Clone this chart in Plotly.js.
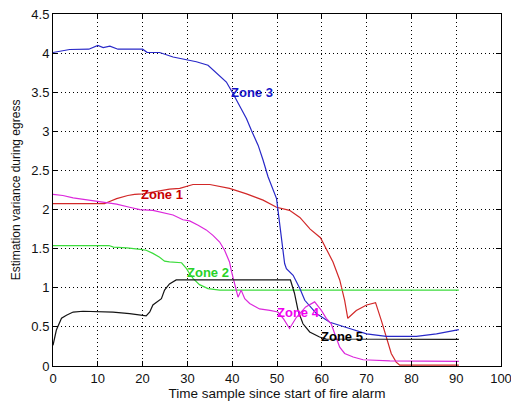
<!DOCTYPE html>
<html>
<head>
<meta charset="utf-8">
<script src="https://cdn.plot.ly/plotly-3.0.1.min.js"></script>
<style>html,body{margin:0;padding:0;background:#fff;}#chart{width:511px;height:405px;}</style>
</head>
<body>
<div id="chart"></div>
<script>
// Zone 1 (red)
const zone1X = [0, 11.5, 12.5, 14.2, 16.7, 18.2, 20, 22, 24, 26, 28.3, 31.25, 35, 37, 39.4, 43.2, 46.9, 49.9, 52.8, 55.1, 57.4, 59.7, 61, 62.5, 64, 65.1, 65.8, 67.7, 70, 72, 73.3, 74.4, 75.5, 76.6, 77.4, 90.6];
const zone1Y = [2.077, 2.077, 2.1, 2.14, 2.18, 2.195, 2.2, 2.22, 2.24, 2.26, 2.27, 2.32, 2.32, 2.3, 2.27, 2.2, 2.12, 2.03, 1.99, 1.9, 1.75, 1.64, 1.50, 1.33, 1.10, 0.84, 0.61, 0.71, 0.78, 0.81, 0.58, 0.37, 0.16, 0.05, 0.01, 0.01];
// Zone 2 (green)
const zone2X = [0, 12.5, 13.5, 16.5, 19.5, 20.8, 22.3, 23.8, 24.9, 26, 28.7, 29.8, 30.5, 31.25, 32.7, 34.6, 37.2, 90.6];
const zone2Y = [1.54, 1.54, 1.52, 1.51, 1.49, 1.48, 1.44, 1.39, 1.34, 1.33, 1.32, 1.245, 1.18, 1.12, 1.04, 0.99, 0.97, 0.97];
// Zone 3 (blue)
const zone3X = [0, 3.7, 8, 10, 11.2, 12.7, 14.5, 20, 21, 23.8, 26.8, 29.8, 32, 34.6, 36.5, 38.7, 40.2, 41.7, 43.2, 44.3, 45.8, 46.9, 48, 49.9, 50.2, 51, 51.7, 52.1, 53.6, 55.1, 56.2, 58.8, 61.8, 66.2, 70, 74.4, 81.1, 85.6, 90.6];
const zone3Y = [4.008, 4.046, 4.05, 4.097, 4.07, 4.09, 4.05, 4.05, 4.01, 4.008, 3.95, 3.91, 3.89, 3.845, 3.74, 3.63, 3.48, 3.31, 3.16, 3.01, 2.82, 2.63, 2.42, 2.14, 1.99, 1.65, 1.31, 1.245, 1.16, 0.99, 0.84, 0.67, 0.56, 0.48, 0.41, 0.38, 0.38, 0.41, 0.465];
// Zone 4 (magenta)
const zone4X = [0, 2.2, 4.5, 6.7, 8.9, 11.2, 14.2, 17.1, 19.4, 22.3, 24.6, 26.8, 29, 30.5, 32.4, 34.2, 35.7, 37.2, 38.3, 39.4, 39.8, 40.6, 41.3, 42, 42.8, 43.9, 46.1, 48.4, 50.2, 51.5, 52.8, 54.3, 56.4, 58.4, 59.9, 61, 62.1, 62.9, 64, 65.1, 67, 69.2, 75.2, 90.6];
const zone4Y = [2.195, 2.18, 2.15, 2.13, 2.11, 2.09, 2.07, 2.03, 2.0, 1.99, 1.96, 1.93, 1.87, 1.855, 1.80, 1.74, 1.67, 1.585, 1.48, 1.33, 1.22, 1.05, 0.88, 0.97, 0.86, 0.80, 0.73, 0.71, 0.69, 0.6, 0.48, 0.62, 0.755, 0.82, 0.71, 0.61, 0.54, 0.41, 0.24, 0.16, 0.115, 0.08, 0.065, 0.06];
// Zone 5 (black)
const zone5X = [0, 0.75, 1.9, 3, 4.5, 6.7, 13.4, 17.1, 20.8, 21.6, 22.3, 23.4, 24.2, 24.9, 26, 27.5, 30.1, 53, 53.9, 54.7, 55.8, 57.3, 59.5, 61, 90.6];
const zone5Y = [0.265, 0.46, 0.61, 0.65, 0.69, 0.70, 0.69, 0.67, 0.64, 0.69, 0.78, 0.82, 0.86, 0.97, 1.05, 1.10, 1.10, 1.10, 0.93, 0.71, 0.54, 0.435, 0.37, 0.345, 0.34];

const zoneNames = ["Zone 1", "Zone 2", "Zone 3", "Zone 4", "Zone 5"];
const labelX = [24.4, 34.7, 44.4, 54.7, 64.4];
const labelY = [2.196, 1.194, 3.50, 0.69, 0.371];

const lineColors = ["rgb(210,40,40)", "rgb(60,220,60)", "rgb(40,40,200)", "rgb(220,40,220)", "rgb(20,20,20)"];
const textColors = ["rgb(200,0,0)", "rgb(40,210,40)", "rgb(20,20,200)", "rgb(240,0,240)", "rgb(0,0,0)"];

const xs = [zone1X, zone2X, zone3X, zone4X, zone5X];
const ys = [zone1Y, zone2Y, zone3Y, zone4Y, zone5Y];

const traces = xs.map((x, i) => ({
  x: x, y: ys[i], type: 'scatter', mode: 'lines', name: zoneNames[i],
  line: {color: lineColors[i], width: 1.2}, hoverinfo: 'skip'
}));

const annotations = zoneNames.map((t, i) => ({
  x: labelX[i], y: labelY[i], xref: 'x', yref: 'y', text: '<b>' + t + '</b>',
  showarrow: false, xanchor: 'center', yanchor: 'middle',
  font: {family: 'Liberation Sans, Arial, sans-serif', size: 13, color: textColors[i]}
}));

const axisCommon = {
  showline: true, linecolor: '#000', linewidth: 1, mirror: 'ticks',
  ticks: 'inside', ticklen: 5, tickcolor: '#000',
  showgrid: true, gridcolor: '#000', gridwidth: 1, griddash: '1px,3px',
  zeroline: false, ticklabeloverflow: 'allow',
  tickfont: {family: 'Liberation Sans, Arial, sans-serif', size: 13, color: '#111'}
};

const layout = {
  width: 511, height: 405,
  margin: {l: 53, r: 10, t: 14, b: 39},
  paper_bgcolor: '#fff', plot_bgcolor: '#fff',
  showlegend: false,
  xaxis: Object.assign({}, axisCommon, {
    range: [0, 100], dtick: 10, tick0: 0,
    title: {text: 'Time sample since start of fire alarm', standoff: 2,
      font: {family: 'Liberation Sans, Arial, sans-serif', size: 13.5, color: '#111'}}
  }),
  yaxis: Object.assign({}, axisCommon, {
    range: [0, 4.5], dtick: 0.5, tick0: 0,
    title: {text: 'Estimation variance during egress', standoff: 8,
      font: {family: 'Liberation Sans, Arial, sans-serif', size: 12, color: '#111'}}
  }),
  annotations: annotations
};

Plotly.newPlot('chart', traces, layout, {staticPlot: true, displayModeBar: false});
</script>
</body>
</html>
